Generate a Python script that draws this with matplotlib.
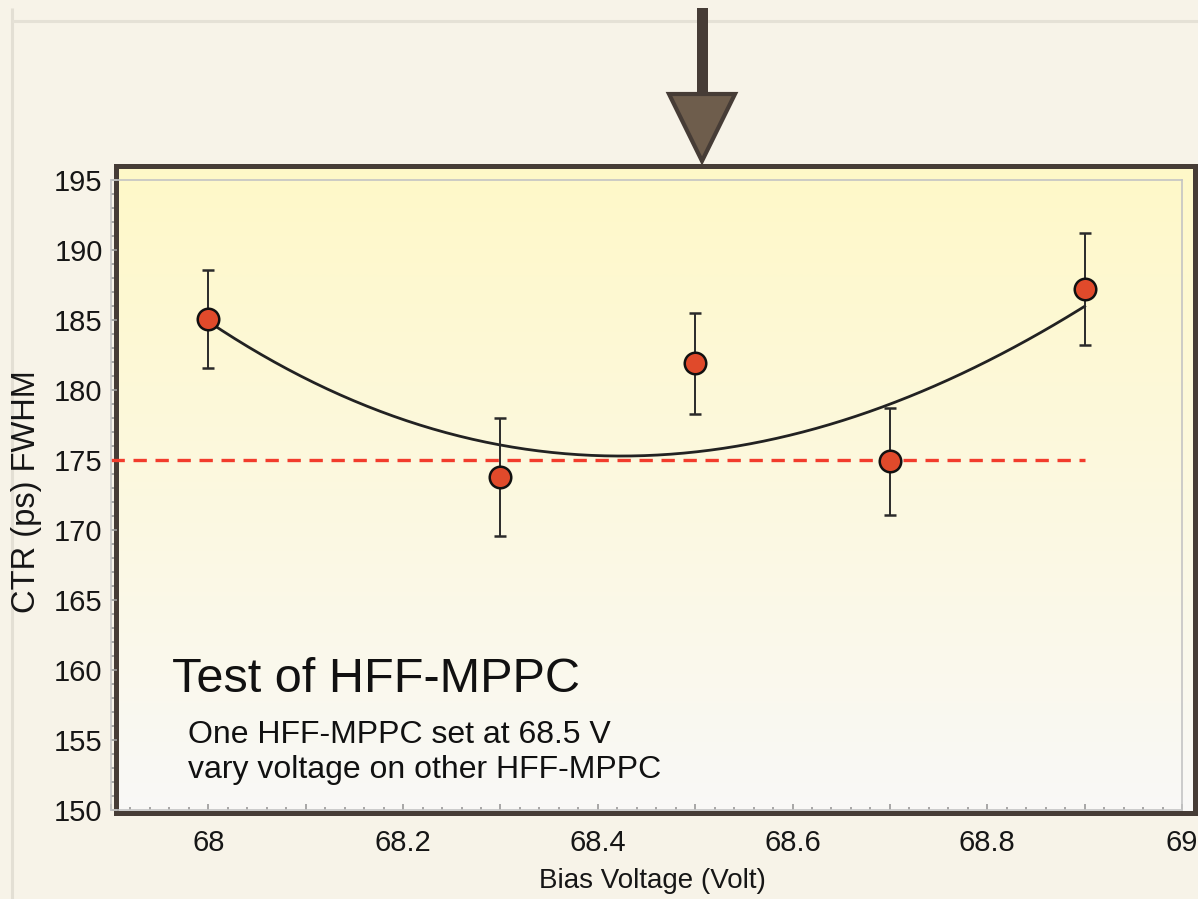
import numpy as np
import matplotlib
matplotlib.use('Agg')
import matplotlib.pyplot as plt
from matplotlib.ticker import MultipleLocator, FuncFormatter
from matplotlib.patches import Rectangle, Polygon

plt.rcParams['font.family'] = ['Liberation Sans', 'DejaVu Sans']

# measured points
volts = [68.0, 68.3, 68.5, 68.7, 68.9]
ctr = [185.1, 173.8, 181.9, 174.9, 187.2]
ctr_err = [3.5, 4.2, 3.6, 3.8, 4.0]
# fitted curve as read at the same voltages
fit_ctr = [184.9, 176.0, 175.7, 178.9, 186.0]
# reference level
target_ctr = 175.0
target_span = [67.9, 68.9]

W, H = 1198, 899
BG = '#f7f3e8'
FRAME = '#463c36'


def draw_background(fig):
    bg = fig.add_axes([0, 0, 1, 1], zorder=0)
    bg.set_xlim(0, W)
    bg.set_ylim(H, 0)
    bg.axis('off')

    # slide edges
    bg.plot([12, 12], [8, H], color='#e3dfd4', lw=2.2, solid_capstyle='butt', zorder=1)
    bg.plot([12, W], [21, 21], color='#e5e1d6', lw=2.2, solid_capstyle='butt', zorder=1)

    # yellow to white gradient inside the frame
    top = np.array([255, 248, 200]) / 255
    bot = np.array([249, 249, 247]) / 255
    t = np.linspace(0, 1, 256)[:, None]
    grad = (top * (1 - t) + bot * t)[:, None, :]
    bg.imshow(grad, extent=[116, 1195, 812, 166], aspect='auto', interpolation='bilinear')

    bg.add_patch(Rectangle((115.5, 165.5), 1079, 647, fill=False, ec=FRAME, lw=3.6, zorder=3))

    # arrow pointing at the chart
    bg.add_patch(Rectangle((697, 8), 11, 86, color=FRAME, lw=0, zorder=3))
    bg.add_patch(Polygon([(669, 94), (735, 94), (702, 161)], closed=True,
                         fc='#6e5d4c', ec=FRAME, lw=3, joinstyle='miter', zorder=4))

    bg.text(172, 692, 'Test of HFF-MPPC', fontsize=35, color='#111111', va='baseline')
    bg.text(188, 743, 'One HFF-MPPC set at 68.5 V', fontsize=23, color='#111111', va='baseline')
    bg.text(188, 778, 'vary voltage on other HFF-MPPC', fontsize=23, color='#111111', va='baseline')
    return bg


def x_label(v, pos):
    k = v / 0.2
    if abs(k - round(k)) < 1e-6:
        return f'{v:g}'
    return ''


def main():
    fig = plt.figure(figsize=(W / 100, H / 100), dpi=100, facecolor=BG)
    draw_background(fig)

    ax = fig.add_axes([111 / W, (H - 810) / H, (1182 - 111) / W, 630 / H], zorder=1)
    ax.patch.set_alpha(0)
    ax.set_xlim(67.9, 69.0)
    ax.set_ylim(150, 195)

    ax.plot(target_span, [target_ctr, target_ctr], color='#f23c2c', lw=2.4,
            linestyle=(0, (4.0, 2.6)), zorder=2)

    coef = np.polyfit(volts, fit_ctr, 3)
    xs = np.linspace(volts[0], volts[-1], 200)
    ax.plot(xs, np.polyval(coef, xs), color='#222222', lw=2.0, zorder=3)

    ax.errorbar(volts, ctr, yerr=ctr_err, fmt='o', color='#2a2a2a', ecolor='#2a2a2a',
                elinewidth=1.4, capsize=4, capthick=1.5,
                markersize=15.5, markerfacecolor='#e04a2b', markeredgecolor='#111111',
                markeredgewidth=1.8, zorder=4)

    for side in ['top', 'right', 'left', 'bottom']:
        ax.spines[side].set_color('#c4c4c4')
        ax.spines[side].set_linewidth(1.2)

    ax.xaxis.set_major_locator(MultipleLocator(0.1))
    ax.xaxis.set_minor_locator(MultipleLocator(0.02))
    ax.xaxis.set_major_formatter(FuncFormatter(x_label))
    ax.yaxis.set_major_locator(MultipleLocator(5))
    ax.yaxis.set_minor_locator(MultipleLocator(1))

    ax.tick_params(which='both', direction='in', color='#999999', width=1.2,
                   labelsize=21, labelcolor='#161616')
    ax.tick_params(which='major', length=4)
    ax.tick_params(which='minor', length=2.5)
    ax.tick_params(axis='x', which='both', pad=14)
    ax.tick_params(axis='y', which='both', pad=6)

    ax.set_xlabel('Bias Voltage (Volt)', fontsize=20, color='#161616')
    ax.xaxis.set_label_coords(0.506, -0.092)
    ax.set_ylabel('CTR (ps) FWHM', fontsize=23.5, color='#161616')
    ax.yaxis.set_label_coords(-0.064, 0.506)

    fig.savefig('out.png', dpi=100, facecolor=BG)


if __name__ == '__main__':
    main()
